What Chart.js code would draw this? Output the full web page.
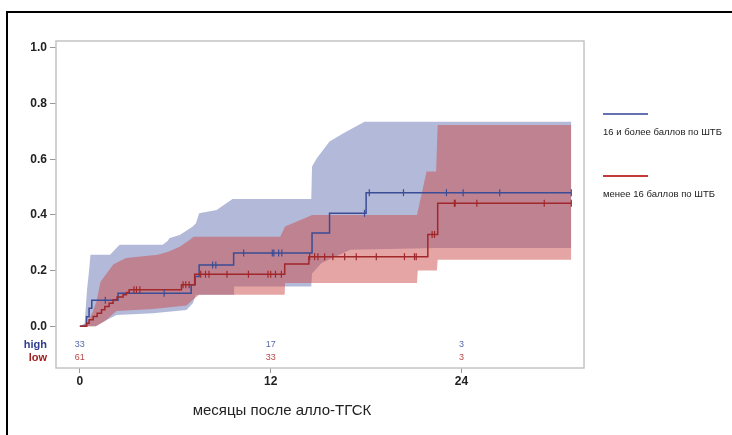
<!DOCTYPE html>
<html>
<head>
<meta charset="utf-8">
<script src="https://cdn.jsdelivr.net/npm/chart.js@4.4.1/dist/chart.umd.min.js"></script>
<style>
  body { margin: 0; background: #fff; }
  #wrap { position: relative; width: 732px; height: 435px; overflow: hidden; background: #fff; }
  #km { position: absolute; left: 0; top: 0; }
  .frame { position: absolute; left: 6px; top: 11px; width: 760px; height: 460px; border: 2px solid #000; box-sizing: border-box; }
  .key { position: absolute; left: 603px; font: 9.5px "Liberation Sans", Arial, sans-serif; color: #222; white-space: nowrap; }
  .key .swatch { width: 45px; height: 2px; margin-bottom: 11px; }
  .xtitle { position: absolute; left: 182px; width: 200px; top: 401px; text-align: center; font: 15px "Liberation Sans", Arial, sans-serif; color: #222; white-space: nowrap; }
</style>
</head>
<body>
<div id="wrap">
  <canvas id="km" width="732" height="435"></canvas>
  <div class="frame"></div>
  <div class="key" style="top:113px"><div class="swatch" style="background:#6372b2"></div>16 и более баллов по ШТБ</div>
  <div class="key" style="top:175px"><div class="swatch" style="background:#c23a3a"></div>менее 16 баллов по ШТБ</div>
  <div class="xtitle">месяцы после алло-ТГСК</div>
</div>
<script>
// cumulative incidence, months after transplant
const xTicks = [0, 12, 24];
const yTicks = [0, 0.2, 0.4, 0.6, 0.8, 1.0];

const highCurve = [[0, 0], [0.42, 0.034], [0.58, 0.065], [0.75, 0.093], [2.4, 0.119], [7.0, 0.149], [7.25, 0.179],
  [7.5, 0.22], [9.67, 0.263], [14.6, 0.335], [15.7, 0.406], [18.0, 0.48], [30.9, 0.48]];
const lowCurve = [[0, 0], [0.42, 0.011], [0.58, 0.023], [0.84, 0.035], [1.09, 0.047], [1.36, 0.059], [1.57, 0.071],
  [1.84, 0.083], [2.09, 0.095], [2.34, 0.105], [2.72, 0.113], [2.93, 0.121], [3.1, 0.131], [6.39, 0.149],
  [7.22, 0.187], [12.88, 0.224], [14.4, 0.25], [21.88, 0.33], [22.5, 0.442], [30.9, 0.442]];

// censored observations
const highCensored = [1.6, 5.3, 8.35, 8.55, 10.3, 12.1, 12.2, 12.5, 12.7, 17.9, 18.2, 20.35, 23.05, 24.1, 26.4, 30.9];
const lowCensored = [3.4, 3.56, 3.77, 6.49, 6.66, 6.87, 7.6, 7.9, 8.12, 9.25, 10.6, 11.83, 12.0, 12.3, 12.67,
  14.45, 14.76, 14.97, 15.39, 15.91, 16.65, 17.38, 18.64, 20.41, 21.04, 21.15, 22.15, 22.3, 23.55, 23.6,
  24.96, 29.2, 30.9];

// confidence bands
const highUpper = [[0, 0], [0.3, 0.01], [0.45, 0.13], [0.58, 0.2], [0.67, 0.257], [1.9, 0.257], [2.5, 0.293],
  [5.2, 0.293], [5.5, 0.305], [5.65, 0.317], [6.28, 0.328], [7.1, 0.358], [7.3, 0.37], [7.5, 0.406],
  [8.6, 0.418], [9.6, 0.457], [14.55, 0.457], [14.6, 0.574], [14.9, 0.604], [15.7, 0.664], [16.6, 0.694],
  [17.9, 0.735], [30.9, 0.735]];
const highLower = [[0, 0], [1.0, 0], [1.6, 0.02], [2.3, 0.04], [4.6, 0.047], [6.7, 0.058], [7.1, 0.083],
  [7.3, 0.113], [9.7, 0.113], [9.7, 0.143], [14.55, 0.143], [14.6, 0.19], [15.2, 0.227], [17.0, 0.275],
  [22.4, 0.281], [30.9, 0.281]];
const lowUpper = [[0, 0], [0.45, 0.01], [0.8, 0.05], [1.05, 0.09], [1.3, 0.16], [2.1, 0.222], [2.9, 0.245],
  [4.9, 0.257], [5.6, 0.269], [6.3, 0.287], [6.9, 0.31], [7.15, 0.322], [12.6, 0.322], [12.9, 0.358],
  [14.4, 0.394], [14.6, 0.4], [21.2, 0.4], [21.8, 0.556], [22.4, 0.556], [22.5, 0.723], [30.9, 0.723]];
const lowLower = [[0, 0], [1.0, 0], [1.6, 0.02], [2.3, 0.055], [4.6, 0.062], [6.7, 0.075], [7.2, 0.1],
  [7.5, 0.113], [12.88, 0.113], [12.9, 0.155], [21.2, 0.155], [21.25, 0.2], [22.45, 0.2], [22.5, 0.239],
  [30.9, 0.239]];

// number at risk
const riskHigh = [33, 17, 3];
const riskLow = [61, 33, 3];

const blueLine = '#3b4d96';
const redLine = '#a0282a';
const blueBand = 'rgba(103,115,177,0.5)';
const redBand = 'rgba(203,75,75,0.5)';

const toPoints = pairs => pairs.map(([x, y]) => ({ x, y }));

// value of the step curve at time t
const valueAt = (curve, t) => {
  let v = 0;
  curve.forEach(([x, y]) => { if (x <= t) v = y; });
  return v;
};
const censorPoints = (curve, times) => times.map(t => ({ x: t, y: valueAt(curve, t) }));

const band = (pairs, color, fill, order) => ({
  data: toPoints(pairs), borderWidth: 0, pointRadius: 0, backgroundColor: color,
  fill, order, tension: 0
});
const censors = (curve, times, color) => ({
  data: censorPoints(curve, times), showLine: false, pointStyle: 'line', rotation: 90,
  pointRadius: 3.5, pointBorderColor: color, pointBorderWidth: 1.2, borderColor: color, order: 0
});

const riskTable = {
  id: 'riskTable',
  afterDraw(chart) {
    const { ctx, chartArea, scales: { x } } = chart;
    ctx.save();
    // plot frame
    ctx.strokeStyle = '#c4c4c4';
    ctx.lineWidth = 1.5;
    ctx.strokeRect(chartArea.left, chartArea.top, chartArea.right - chartArea.left, chartArea.bottom - chartArea.top);

    const rows = [
      { name: 'high', counts: riskHigh, label: '#2f3f8f', num: '#5a68ad', y: chartArea.bottom - 23 },
      { name: 'low', counts: riskLow, label: '#a02020', num: '#b84848', y: chartArea.bottom - 10 }
    ];
    ctx.textBaseline = 'middle';
    rows.forEach(row => {
      ctx.font = 'bold 11px "Liberation Sans", Arial, sans-serif';
      ctx.fillStyle = row.label;
      ctx.textAlign = 'right';
      ctx.fillText(row.name, 47, row.y);
      ctx.font = '9px "Liberation Sans", Arial, sans-serif';
      ctx.fillStyle = row.num;
      ctx.textAlign = 'center';
      row.counts.forEach((n, i) => ctx.fillText(String(n), x.getPixelForValue(xTicks[i]), row.y));
    });
    ctx.restore();
  }
};

Chart.defaults.font.family = '"Liberation Sans", Arial, sans-serif';

new Chart(document.getElementById('km'), {
  type: 'line',
  data: {
    datasets: [
      band(highUpper, blueBand, '+1', 6),
      band(highLower, 'transparent', false, 6),
      band(lowUpper, redBand, '+1', 5),
      band(lowLower, 'transparent', false, 5),
      { data: toPoints(highCurve), stepped: true, borderColor: blueLine, borderWidth: 1.5, pointRadius: 0, fill: false, order: 3 },
      { data: toPoints(lowCurve), stepped: true, borderColor: redLine, borderWidth: 1.5, pointRadius: 0, fill: false, order: 2 },
      censors(highCurve, highCensored, blueLine),
      censors(lowCurve, lowCensored, redLine)
    ]
  },
  options: {
    responsive: false,
    animation: false,
    layout: { padding: { left: 0, right: 148, top: 41, bottom: 0 } },
    plugins: { legend: { display: false }, tooltip: { enabled: false } },
    scales: {
      x: {
        type: 'linear', min: -1.5, max: 31.7,
        afterBuildTicks: axis => { axis.ticks = xTicks.map(v => ({ value: v })); },
        afterFit: axis => { axis.height = 67; },
        grid: { drawOnChartArea: false, tickLength: 5, tickColor: '#999' },
        border: { display: false },
        ticks: { color: '#222', padding: 1, font: { size: 12, weight: 'bold' }, maxRotation: 0 }
      },
      y: {
        min: -0.15, max: 1.025,
        afterBuildTicks: axis => { axis.ticks = yTicks.map(v => ({ value: v })); },
        afterFit: axis => { axis.width = 56; },
        grid: { drawOnChartArea: false, tickLength: 6, tickColor: '#999' },
        border: { display: false },
        ticks: { color: '#222', padding: 3, font: { size: 12, weight: 'bold' }, callback: v => v.toFixed(1) }
      }
    }
  },
  plugins: [riskTable]
});
</script>
</body>
</html>
